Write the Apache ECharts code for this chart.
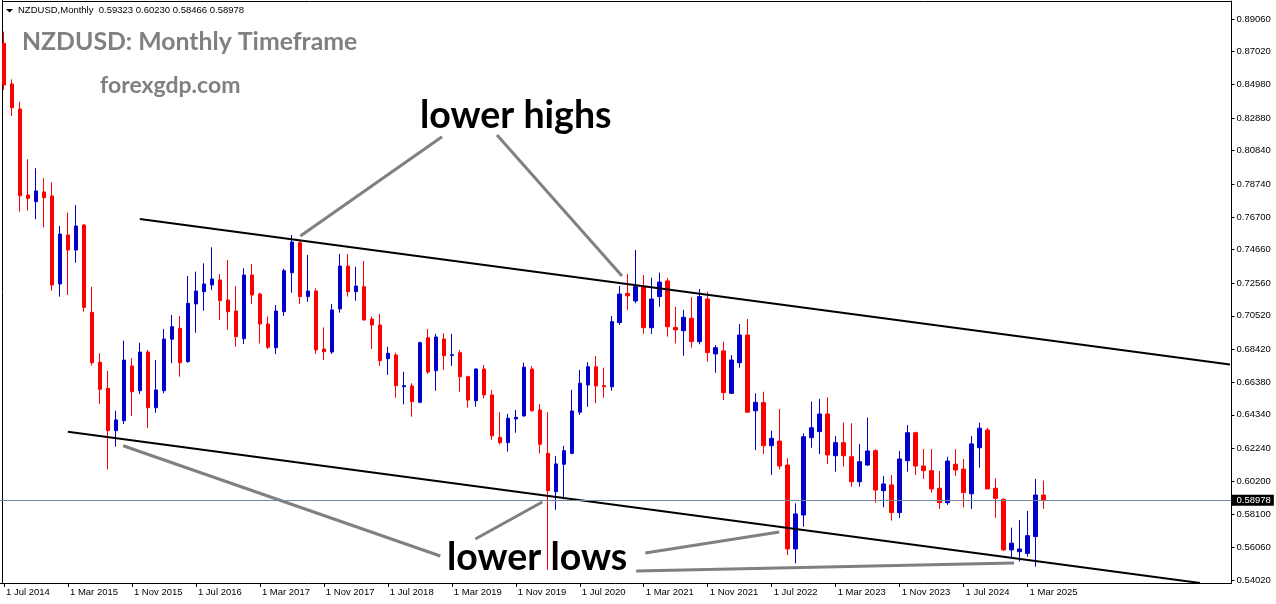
<!DOCTYPE html>
<html><head><meta charset="utf-8">
<script src="https://cdn.jsdelivr.net/npm/echarts@6/dist/echarts.min.js"></script>
<style>html,body{margin:0;padding:0;background:#fff}#c{width:1276px;height:604px}</style>
</head><body><div id="c"></div><script>
const months = [
 'Jul 2014','Aug 2014','Sep 2014','Oct 2014','Nov 2014','Dec 2014',
 'Jan 2015','Feb 2015','Mar 2015','Apr 2015','May 2015','Jun 2015','Jul 2015','Aug 2015','Sep 2015','Oct 2015','Nov 2015','Dec 2015',
 'Jan 2016','Feb 2016','Mar 2016','Apr 2016','May 2016','Jun 2016','Jul 2016','Aug 2016','Sep 2016','Oct 2016','Nov 2016','Dec 2016',
 'Jan 2017','Feb 2017','Mar 2017','Apr 2017','May 2017','Jun 2017','Jul 2017','Aug 2017','Sep 2017','Oct 2017','Nov 2017','Dec 2017',
 'Jan 2018','Feb 2018','Mar 2018','Apr 2018','May 2018','Jun 2018','Jul 2018','Aug 2018','Sep 2018','Oct 2018','Nov 2018','Dec 2018',
 'Jan 2019','Feb 2019','Mar 2019','Apr 2019','May 2019','Jun 2019','Jul 2019','Aug 2019','Sep 2019','Oct 2019','Nov 2019','Dec 2019',
 'Jan 2020','Feb 2020','Mar 2020','Apr 2020','May 2020','Jun 2020','Jul 2020','Aug 2020','Sep 2020','Oct 2020','Nov 2020','Dec 2020',
 'Jan 2021','Feb 2021','Mar 2021','Apr 2021','May 2021','Jun 2021','Jul 2021','Aug 2021','Sep 2021','Oct 2021','Nov 2021','Dec 2021',
 'Jan 2022','Feb 2022','Mar 2022','Apr 2022','May 2022','Jun 2022','Jul 2022','Aug 2022','Sep 2022','Oct 2022','Nov 2022','Dec 2022',
 'Jan 2023','Feb 2023','Mar 2023','Apr 2023','May 2023','Jun 2023','Jul 2023','Aug 2023','Sep 2023','Oct 2023','Nov 2023','Dec 2023',
 'Jan 2024','Feb 2024','Mar 2024','Apr 2024','May 2024','Jun 2024','Jul 2024','Aug 2024','Sep 2024','Oct 2024','Nov 2024','Dec 2024',
 'Jan 2025','Feb 2025','Mar 2025','Apr 2025','May 2025'
];
const opens = [
 0.8754,0.8500,0.8344,0.7807,0.7765,0.7826,
 0.7801,0.7251,0.7557,0.7463,0.7619,0.7074,0.6762,0.6599,0.6335,0.6397,0.6739,0.6584,
 0.6826,0.6478,0.6584,0.6906,0.6974,0.6766,0.7126,0.7203,0.7245,0.7276,0.7151,0.7082,
 0.6909,0.7307,0.7188,0.7001,0.6853,0.7078,0.7321,0.7509,0.7172,0.7207,0.6845,0.6826,
 0.7095,0.7363,0.7203,0.7234,0.7032,0.6995,0.6784,0.6807,0.6609,0.6614,0.6512,0.6915,
 0.6709,0.6907,0.6805,0.6822,0.6672,0.6522,0.6720,0.6558,0.6293,0.6260,0.6408,0.6427,
 0.6720,0.6464,0.6193,0.5954,0.6125,0.6193,0.6450,0.6620,0.6734,0.6616,0.6609,0.7010,
 0.7192,0.7145,0.7234,0.6978,0.7172,0.7270,0.6980,0.6959,0.7037,0.6891,0.7157,0.6814,
 0.6833,0.6568,0.6759,0.6932,0.6459,0.6510,0.6241,0.6270,0.6120,0.5596,0.5808,0.6291,
 0.6329,0.6439,0.6178,0.6260,0.6172,0.6016,0.6120,0.6210,0.5960,0.5996,0.5823,0.6147,
 0.6322,0.6114,0.6085,0.5975,0.5885,0.6125,0.6095,0.5940,0.6228,0.6339,0.5975,0.5906,
 0.5590,0.5579,0.5568,0.5673,0.59323
];
const highs = [
 0.8827,0.8529,0.8390,0.8030,0.7974,0.7911,
 0.7886,0.7613,0.7696,0.7744,0.7626,0.7234,0.6818,0.6709,0.6460,0.6897,0.6787,0.6884,
 0.6839,0.6776,0.6970,0.7057,0.7051,0.7301,0.7328,0.7380,0.7480,0.7313,0.7401,0.7238,
 0.7349,0.7376,0.7197,0.7047,0.7120,0.7346,0.7557,0.7526,0.7432,0.7224,0.6980,0.7126,
 0.7438,0.7438,0.7359,0.7395,0.7047,0.7064,0.6859,0.6822,0.6703,0.6631,0.6891,0.6970,
 0.6939,0.6943,0.6939,0.6839,0.6678,0.6724,0.6745,0.6589,0.6450,0.6439,0.6464,0.6760,
 0.6739,0.6501,0.6450,0.6177,0.6239,0.6589,0.6714,0.6762,0.6801,0.6728,0.7051,0.7238,
 0.7313,0.7463,0.7307,0.7290,0.7322,0.7290,0.7109,0.7089,0.7168,0.7220,0.7203,0.6870,
 0.6891,0.6807,0.7001,0.7032,0.6568,0.6578,0.6335,0.6470,0.6162,0.5881,0.6318,0.6516,
 0.6533,0.6543,0.6302,0.6385,0.6381,0.6252,0.6416,0.6219,0.6052,0.6058,0.6208,0.6370,
 0.6328,0.6220,0.6220,0.6083,0.6172,0.6219,0.6158,0.6302,0.6385,0.6353,0.6037,0.5912,
 0.5729,0.5777,0.5833,0.6033,0.60230
];
const lows = [
 0.8462,0.8300,0.7702,0.7709,0.7655,0.7605,
 0.7209,0.7172,0.7182,0.7384,0.7078,0.6741,0.6502,0.6093,0.6235,0.6376,0.6426,0.6564,
 0.6350,0.6447,0.6568,0.6756,0.6672,0.6759,0.6947,0.7084,0.7214,0.7026,0.6964,0.6859,
 0.6876,0.7126,0.6880,0.6845,0.6814,0.7051,0.7197,0.7126,0.7140,0.6814,0.6776,0.6814,
 0.7072,0.7172,0.7147,0.7023,0.6845,0.6739,0.6683,0.6541,0.6499,0.6422,0.6506,0.6689,
 0.6584,0.6714,0.6739,0.6578,0.6478,0.6484,0.6537,0.6277,0.6250,0.6204,0.6322,0.6422,
 0.6453,0.6193,0.5465,0.5840,0.5906,0.6187,0.6433,0.6484,0.6506,0.6541,0.6584,0.6995,
 0.7089,0.7131,0.6939,0.6939,0.7109,0.6922,0.6880,0.6803,0.6853,0.6874,0.6766,0.6697,
 0.6526,0.6564,0.6728,0.6447,0.6214,0.6189,0.6058,0.6093,0.5558,0.5506,0.5735,0.6228,
 0.6189,0.6127,0.6079,0.6110,0.5985,0.5985,0.6114,0.5885,0.5856,0.5773,0.5788,0.6079,
 0.6058,0.6033,0.5948,0.5846,0.5871,0.6052,0.5856,0.5846,0.6104,0.5969,0.5791,0.5583,
 0.5544,0.5517,0.5548,0.5485,0.58466
];
const closes = [
 0.8494,0.8352,0.7802,0.7786,0.7832,0.7790,
 0.7245,0.7563,0.7463,0.7613,0.7105,0.6759,0.6593,0.6335,0.6402,0.6776,0.6578,0.6826,
 0.6478,0.6589,0.6907,0.6984,0.6759,0.7130,0.7207,0.7251,0.7282,0.7147,0.7078,0.6922,
 0.7307,0.7182,0.7001,0.6856,0.7082,0.7334,0.7513,0.7172,0.7207,0.6839,0.6828,0.7089,
 0.7363,0.7203,0.7238,0.7026,0.6995,0.6772,0.6818,0.6616,0.6616,0.6516,0.6884,0.6701,
 0.6920,0.6803,0.6809,0.6672,0.6526,0.6720,0.6558,0.6303,0.6260,0.6412,0.6418,0.6731,
 0.6459,0.6250,0.5960,0.6127,0.6210,0.6458,0.6631,0.6734,0.6614,0.6609,0.7016,0.7188,
 0.7177,0.7234,0.6978,0.7157,0.7263,0.6984,0.6964,0.7043,0.6891,0.7172,0.6822,0.6853,
 0.6572,0.6776,0.6932,0.6450,0.6512,0.6241,0.6287,0.6114,0.5596,0.5815,0.6297,0.6353,
 0.6439,0.6183,0.6260,0.6178,0.6016,0.6141,0.6208,0.5964,0.6002,0.5823,0.6158,0.6322,
 0.6114,0.6085,0.5971,0.5885,0.6145,0.6089,0.5948,0.6252,0.6350,0.5971,0.5912,0.5590,
 0.5632,0.5596,0.5679,0.5933,0.58978
];
const futureSlots = 23;
const yTickValues = [0.89060,0.87020,0.84980,0.82880,0.80840,0.78740,0.76700,0.74660,0.72560,
 0.70520,0.68420,0.66380,0.64340,0.62240,0.60200,0.58100,0.56060,0.54020];
const xTickLabels = ['1 Jul 2014','1 Mar 2015','1 Nov 2015','1 Jul 2016','1 Mar 2017','1 Nov 2017',
 '1 Jul 2018','1 Mar 2019','1 Nov 2019','1 Jul 2020','1 Mar 2021','1 Nov 2021','1 Jul 2022',
 '1 Mar 2023','1 Nov 2023','1 Jul 2024','1 Mar 2025'];
const lastPrice = 0.58978;
const headerText = 'NZDUSD,Monthly  0.59323 0.60230 0.58466 0.58978';
// trendlines: [month index, price]
const upperTrend = [[16.98, 0.76568], [153.31, 0.67480]];
const lowerTrend = [[7.98, 0.63283], [149.56, 0.53833]];
const pointerLines = [
 [[54.78, 0.81708], [37.06, 0.75506]],
 [[61.65, 0.81815], [77.28, 0.73008]],
 [[14.90, 0.62408], [54.56, 0.55520]],
 [[58.94, 0.56581], [67.31, 0.58892]],
 [[80.19, 0.55707], [96.94, 0.57019]],
 [[79.06, 0.54583], [126.31, 0.55083]]
];

const cats = months.concat(Array(futureSlots).fill(''));
const candles = opens.map((o, i) => [o, closes[i], lows[i], highs[i]]);
const isTick = (idx, val) => val !== '' && xTickLabels.indexOf('1 ' + val) >= 0;
const axisFont = {fontFamily: 'Liberation Sans', fontSize: 9.5, color: '#000'};

const series = [{
  type: 'candlestick', xAxisIndex: 0, yAxisIndex: 0, data: candles, barWidth: 4,
  itemStyle: {color: '#0000cd', color0: '#ff0000', borderColor: '#0000cd', borderColor0: '#ff0000', borderWidth: 1},
  markLine: {
    symbol: 'none', silent: true, animation: false,
    lineStyle: {color: '#778899', width: 1, type: 'solid'},
    label: {position: 'end', distance: 0, formatter: lastPrice.toFixed(5), backgroundColor: '#000',
      color: '#fff', fontFamily: 'Liberation Sans', fontSize: 9.5, padding: [1, 3, 0, 5], lineHeight: 10},
    data: [{yAxis: lastPrice}]
  }
}];
[upperTrend, lowerTrend].forEach(d => series.push({
  type: 'line', xAxisIndex: 1, yAxisIndex: 0, data: d, symbol: 'none', silent: true,
  lineStyle: {color: '#000', width: 2}
}));
pointerLines.forEach(d => series.push({
  type: 'line', xAxisIndex: 1, yAxisIndex: 0, data: d, symbol: 'none', silent: true,
  lineStyle: {color: '#808080', width: 3}
}));

const chart = echarts.init(document.getElementById('c'), null, {renderer: 'canvas'});
chart.setOption({
  animation: false,
  backgroundColor: '#fff',
  grid: {left: -0.5, top: 1, width: 1232, height: 582},
  xAxis: [{
    type: 'category', data: cats, boundaryGap: true,
    axisLine: {show: true, onZero: false, lineStyle: {color: '#000', width: 1}},
    axisTick: {show: true, alignWithLabel: true, interval: isTick, length: 4, lineStyle: {color: '#000'}},
    axisLabel: Object.assign({interval: isTick, formatter: v => '1 ' + v, align: 'left', margin: 4, padding: [0, 0, 0, 2]}, axisFont),
    splitLine: {show: false}
  }, {
    type: 'value', min: -0.5, max: 153.5, show: false,
    axisLine: {onZero: false}
  }],
  yAxis: [{
    type: 'value', position: 'right', min: 0.53833, max: 0.90184,
    axisLine: {show: true, onZero: false, lineStyle: {color: '#000', width: 1}},
    axisTick: {show: true, customValues: yTickValues, length: 3, lineStyle: {color: '#000'}},
    axisLabel: Object.assign({customValues: yTickValues, formatter: v => v.toFixed(5), margin: 5}, axisFont),
    splitLine: {show: false}
  }],
  graphic: [
    {type: 'line', shape: {x1: 2.5, y1: 0, x2: 2.5, y2: 583}, style: {stroke: '#000', lineWidth: 1}, silent: true},
    {type: 'line', shape: {x1: 2, y1: 1.5, x2: 1232, y2: 1.5}, style: {stroke: '#000', lineWidth: 1}, silent: true},
    {type: 'polygon', shape: {points: [[6, 9], [13, 9], [9.5, 12.5]]}, style: {fill: '#000'}, silent: true},
    {type: 'text', x: 18, y: 10.5, silent: true, style: {text: headerText, fill: '#000', fontFamily: 'Liberation Sans', fontSize: 9.5, verticalAlign: 'middle'}},
    {type: 'text', x: 22, y: 42.5, silent: true, style: {text: 'NZDUSD: Monthly Timeframe', fill: '#808080', fontFamily: 'Lato', fontWeight: 'bold', fontSize: 24.8, verticalAlign: 'middle'}},
    {type: 'text', x: 100, y: 86, silent: true, style: {text: 'forexgdp.com', fill: '#808080', fontFamily: 'Lato', fontWeight: 'bold', fontSize: 23, verticalAlign: 'middle'}},
    {type: 'text', x: 420, y: 116, silent: true, style: {text: 'lower highs', fill: '#000', fontFamily: 'Lato', fontWeight: 'bold', fontSize: 37.5, verticalAlign: 'middle'}},
    {type: 'text', x: 447, y: 558, silent: true, style: {text: 'lower lows', fill: '#000', fontFamily: 'Lato', fontWeight: 'bold', fontSize: 37.5, verticalAlign: 'middle'}}
  ],
  series: series
});
</script></body></html>
